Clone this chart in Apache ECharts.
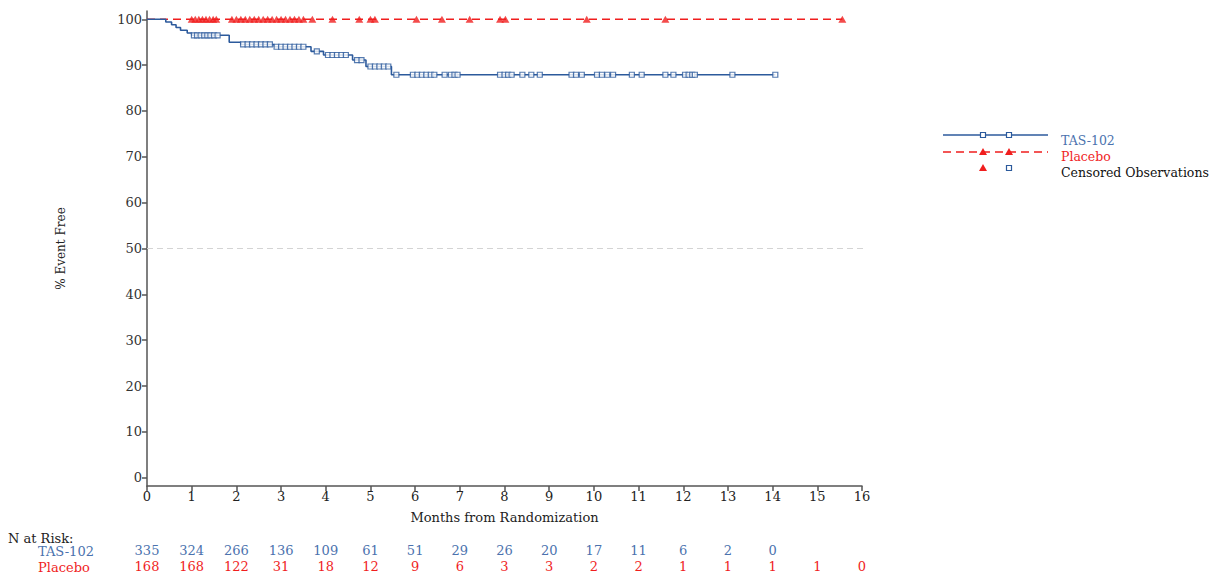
<!DOCTYPE html>
<html>
<head>
<meta charset="utf-8">
<script src="https://cdn.jsdelivr.net/npm/echarts@6/dist/echarts.min.js"></script>
<style>
  html, body { margin: 0; padding: 0; background: #fff; }
  #chart { width: 1215px; height: 579px; }
</style>
</head>
<body>
<div id="chart"></div>
<script>
// Kaplan-Meier step points for TAS-102: [month, % event free after the step]
const tasSteps = [
  [0, 100], [0.42, 99.4], [0.55, 98.8], [0.65, 98.2], [0.75, 97.6], [0.9, 97.0],
  [1.0, 96.5], [1.84, 95.0], [2.1, 94.5], [2.85, 94.0], [3.67, 93.0], [3.95, 92.2],
  [4.6, 91.1], [4.9, 89.7], [5.47, 87.9], [14.06, 87.9]
];
// Censoring times (months) for TAS-102
const tasCensored = [
  1.05, 1.12, 1.2, 1.28, 1.35, 1.42, 1.5, 1.58,
  2.15, 2.25, 2.35, 2.45, 2.55, 2.65, 2.75, 2.9, 3.0, 3.1, 3.2, 3.3, 3.4, 3.5,
  3.8, 4.05, 4.15, 4.25, 4.35, 4.45, 4.7, 4.8, 5.0, 5.1, 5.2, 5.3, 5.4,
  5.58, 5.95, 6.05, 6.15, 6.25, 6.35, 6.43, 6.66, 6.8, 6.88, 6.95,
  7.9, 8.0, 8.08, 8.16, 8.4, 8.6, 8.79, 9.5, 9.6, 9.73,
  10.07, 10.18, 10.3, 10.43, 10.85, 11.07, 11.6, 11.78,
  12.04, 12.12, 12.2, 12.26, 13.1, 14.06
];
// Placebo: no events, curve stays at 100
const placeboSteps = [[0, 100], [15.56, 100]];
const placeboCensored = [
  1.0, 1.08, 1.16, 1.24, 1.32, 1.4, 1.48, 1.55,
  1.9, 2.0, 2.1, 2.2, 2.3, 2.4, 2.5, 2.6, 2.7, 2.8, 2.9, 3.0, 3.1, 3.2, 3.3, 3.4, 3.5,
  3.7, 4.15, 4.75, 5.0, 5.1, 6.03, 6.6, 7.22, 7.9, 8.02, 9.84, 11.6, 15.56
];
// Number at risk at each month
const tasRisk = [335, 324, 266, 136, 109, 61, 51, 29, 26, 20, 17, 11, 6, 2, 0];
const placeboRisk = [168, 168, 122, 31, 18, 12, 9, 6, 3, 3, 2, 2, 1, 1, 1, 1, 0];
const yTicks = [0, 10, 20, 30, 40, 50, 60, 70, 80, 90, 100];
const xTicks = [0, 1, 2, 3, 4, 5, 6, 7, 8, 9, 10, 11, 12, 13, 14, 15, 16];
const referenceLevel = 50;

const BLUE = '#2c5a9c';
const BLUE_TXT = '#4b72ae';
const RED = '#f01e1e';
const SERIF = '"DejaVu Serif", "Liberation Serif", serif';

// value of a step curve at time t
function curveAt(steps, t) {
  let v = steps[0][1];
  for (const [x, y] of steps) { if (x <= t) v = y; else break; }
  return v;
}

const chart = echarts.init(document.getElementById('chart'), null, { renderer: 'svg' });

const riskAxis = (arr, color, offset) => ({
  type: 'value', gridIndex: 0, position: 'bottom', min: 0, max: 16, interval: 1,
  offset: offset,
  axisLine: { show: false }, axisTick: { show: false }, splitLine: { show: false },
  axisLabel: {
    margin: 0, color: color, fontFamily: SERIF, fontSize: 13,
    customValues: arr.map((_, i) => i),
    formatter: v => (arr[v] !== undefined ? String(arr[v]) : '')
  }
});

const option = {
  backgroundColor: '#fff',
  animation: false,
  grid: { left: 147, right: 353, top: 11, bottom: 93 },
  xAxis: [
    {
      type: 'value', min: 0, max: 16, interval: 1,
      name: 'Months from Randomization', nameLocation: 'middle', nameGap: 25,
      nameTextStyle: { fontFamily: SERIF, fontSize: 13, color: '#222' },
      axisLine: { show: true, onZero: false, lineStyle: { color: '#555', width: 1.5 } },
      axisTick: { show: true, length: 5, lineStyle: { color: '#555', width: 1.5 } },
      axisLabel: { fontFamily: SERIF, fontSize: 13, color: '#222', margin: 4, customValues: xTicks },
      splitLine: { show: false }
    },
    riskAxis(tasRisk, BLUE_TXT, 58),
    riskAxis(placeboRisk, RED, 74)
  ],
  yAxis: {
    type: 'value', min: -1.8, max: 101.8,
    name: '% Event Free', nameLocation: 'middle', nameGap: 80, nameRotate: 90,
    nameTextStyle: { fontFamily: SERIF, fontSize: 12, color: '#222' },
    axisLine: { show: true, onZero: false, lineStyle: { color: '#555', width: 1.5 } },
    axisTick: { show: true, length: 5, customValues: yTicks, lineStyle: { color: '#555', width: 1.5 } },
    axisLabel: { fontFamily: SERIF, fontSize: 13, color: '#333', margin: 5, customValues: yTicks },
    splitLine: { show: false }
  },
  series: [
    {
      name: 'TAS-102', type: 'line', step: 'end', data: tasSteps, symbol: 'none',
      lineStyle: { color: BLUE, width: 1.6 }, z: 3
    },
    {
      name: 'Placebo', type: 'line', data: placeboSteps, symbol: 'none',
      lineStyle: { color: RED, width: 1.6, type: [8, 5] }, z: 2
    },
    {
      name: 'TAS-102 censored', type: 'scatter', symbol: 'rect', symbolSize: 5,
      data: tasCensored.map(t => [t, curveAt(tasSteps, t)]),
      itemStyle: { color: '#fff', borderColor: BLUE, borderWidth: 1.2 }, z: 4
    },
    {
      name: 'Placebo censored', type: 'scatter', symbol: 'triangle', symbolSize: [8, 7],
      data: placeboCensored.map(t => [t, curveAt(placeboSteps, t)]),
      itemStyle: { color: RED }, z: 4
    },
    {
      // light dashed reference line at 50%
      name: 'median', type: 'line', symbol: 'none', silent: true, z: 1, clip: false,
      data: [[0, referenceLevel], [16.2, referenceLevel]],
      lineStyle: { color: '#d4d4d4', type: [6, 4], width: 1 }
    }
  ],
  graphic: [
    // legend
    { type: 'line', shape: { x1: 943, y1: 135, x2: 1048, y2: 135 }, style: { stroke: BLUE, lineWidth: 1.5 } },
    { type: 'rect', shape: { x: 980.5, y: 132.5, width: 5, height: 5 }, style: { fill: '#fff', stroke: BLUE, lineWidth: 1.2 } },
    { type: 'rect', shape: { x: 1006.5, y: 132.5, width: 5, height: 5 }, style: { fill: '#fff', stroke: BLUE, lineWidth: 1.2 } },
    { type: 'text', x: 1061, y: 140, style: { text: 'TAS-102', fill: BLUE_TXT, font: '12.5px ' + SERIF, verticalAlign: 'middle' } },
    { type: 'line', shape: { x1: 943, y1: 152, x2: 1048, y2: 152 }, style: { stroke: RED, lineWidth: 1.5, lineDash: [8, 5] } },
    { type: 'polygon', shape: { points: [[983, 148], [979, 155], [987, 155]] }, style: { fill: RED } },
    { type: 'polygon', shape: { points: [[1009, 148], [1005, 155], [1013, 155]] }, style: { fill: RED } },
    { type: 'text', x: 1061, y: 156.5, style: { text: 'Placebo', fill: RED, font: '12.5px ' + SERIF, verticalAlign: 'middle' } },
    { type: 'polygon', shape: { points: [[983, 164], [979, 171], [987, 171]] }, style: { fill: RED } },
    { type: 'rect', shape: { x: 1006.5, y: 165.5, width: 5, height: 5 }, style: { fill: '#fff', stroke: BLUE, lineWidth: 1.2 } },
    { type: 'text', x: 1061, y: 172.5, style: { text: 'Censored Observations', fill: '#111', font: '12.5px ' + SERIF, verticalAlign: 'middle' } },
    // number-at-risk row labels
    { type: 'text', x: 8, y: 538, style: { text: 'N at Risk:', fill: '#222', font: '13px ' + SERIF, verticalAlign: 'middle' } },
    { type: 'text', x: 38, y: 551, style: { text: 'TAS-102', fill: BLUE_TXT, font: '13px ' + SERIF, verticalAlign: 'middle' } },
    { type: 'text', x: 38, y: 567, style: { text: 'Placebo', fill: RED, font: '13px ' + SERIF, verticalAlign: 'middle' } }
  ]
};

chart.setOption(option);
</script>
</body>
</html>
